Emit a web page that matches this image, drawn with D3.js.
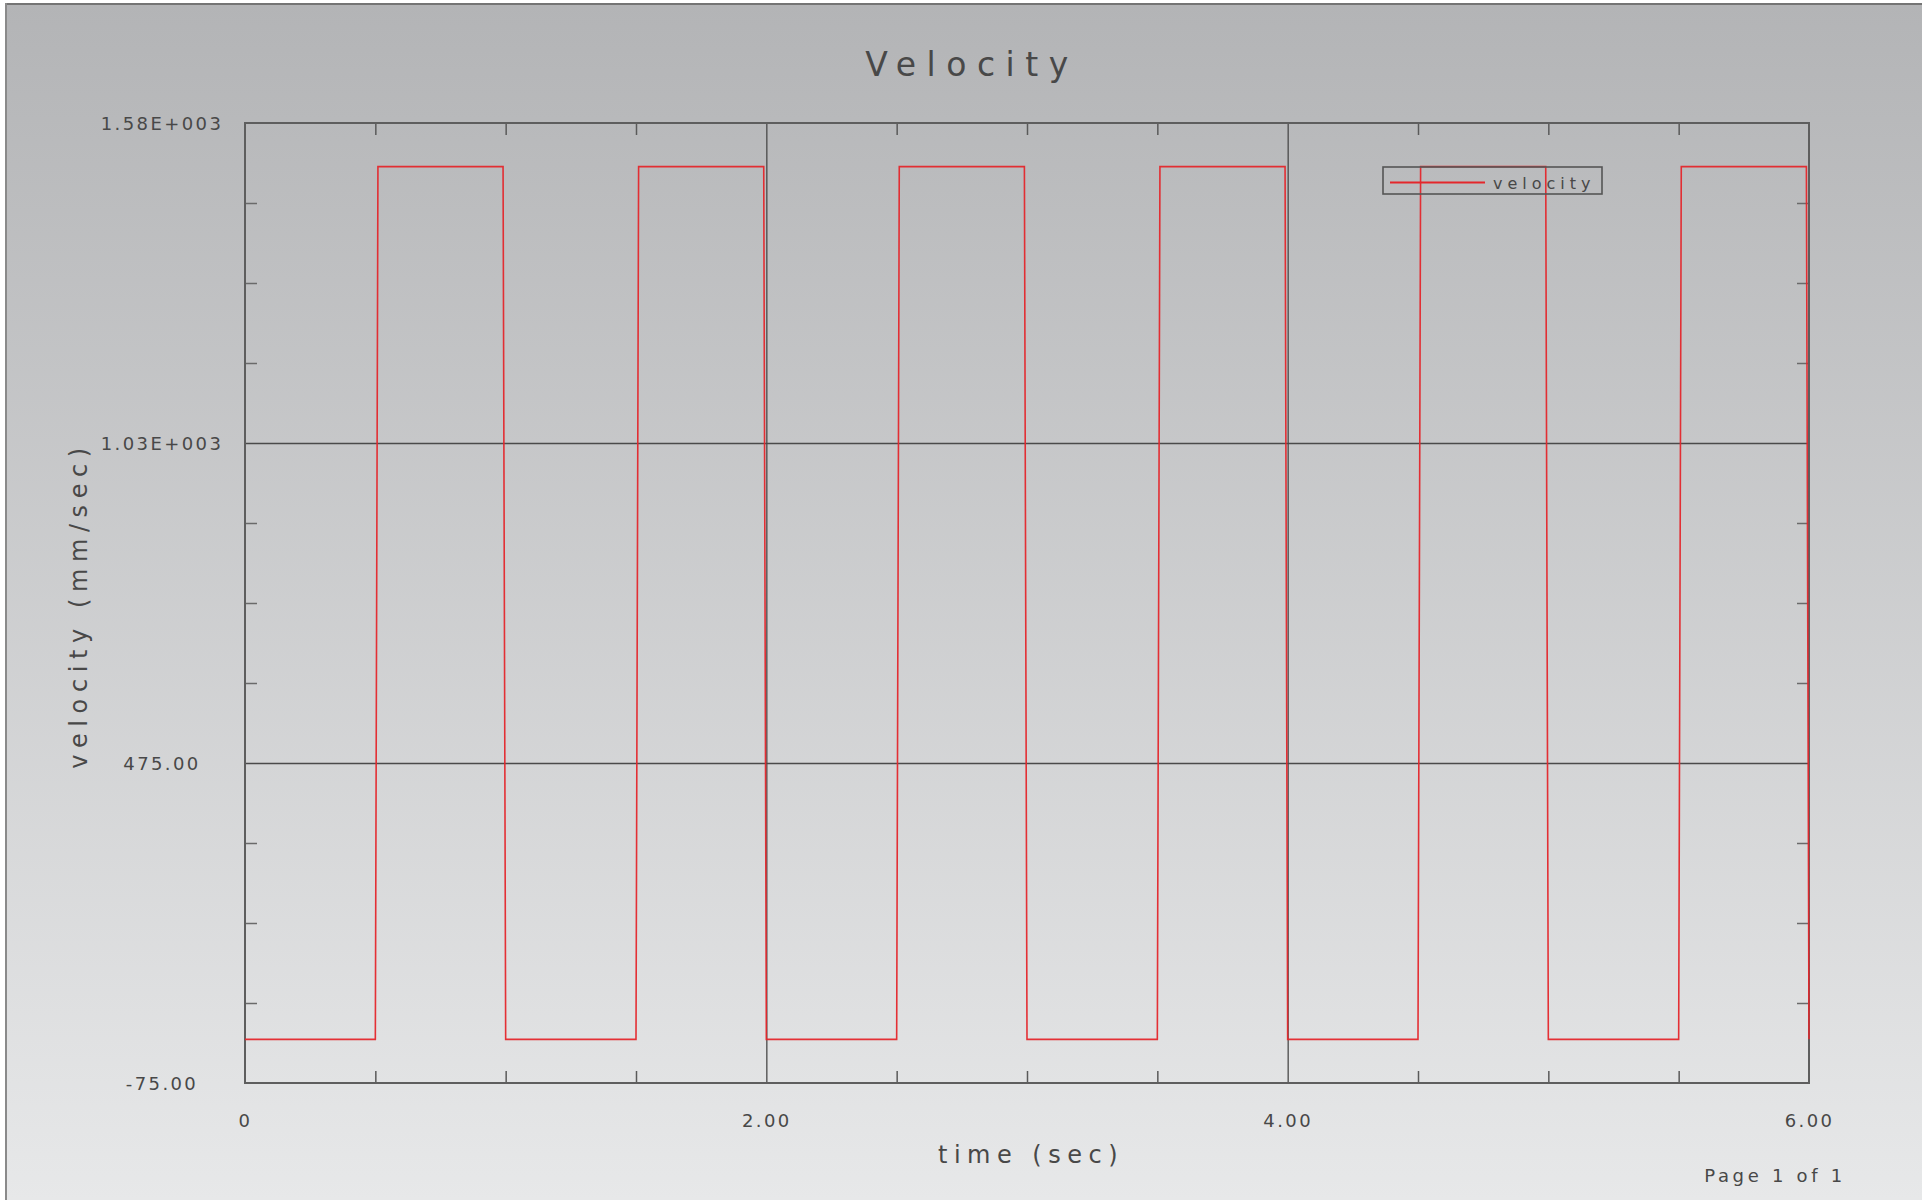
<!DOCTYPE html>
<html>
<head>
<meta charset="utf-8">
<script src="https://cdn.jsdelivr.net/npm/d3@7/dist/d3.min.js"></script>
<style>
  html, body { margin: 0; padding: 0; background: #ffffff; }
  svg { display: block; }
  text { font-family: "DejaVu Sans", sans-serif; fill: #484848; }
</style>
</head>
<body>
<svg id="chart" width="1922" height="1200"></svg>
<script>
// ---- data ----
const timeSec = [0, 0.5, 0.51, 0.99, 1.0, 1.5, 1.51, 1.99, 2.0, 2.5, 2.51, 2.99, 3.0,
                 3.5, 3.51, 3.99, 4.0, 4.5, 4.51, 4.99, 5.0, 5.5, 5.51, 5.99, 6.0];
const velocity = [0, 0, 1500, 1500, 0, 0, 1500, 1500, 0, 0, 1500, 1500, 0,
                  0, 1500, 1500, 0, 0, 1500, 1500, 0, 0, 1500, 1500, 0];
const xMajorTicks = [0, 2, 4, 6];
const xTickLabels = ["0", "2.00", "4.00", "6.00"];
const xMinorTicks = [0.5, 1, 1.5, 2.5, 3, 3.5, 4.5, 5, 5.5];
const yMajorTicks = [-75, 475, 1025, 1575];
const yTickLabels = ["-75.00", "475.00", "1.03E+003", "1.58E+003"];
const yMinorTicks = [62.5, 200, 337.5, 612.5, 750, 887.5, 1162.5, 1300, 1437.5];
const xGridValues = [2, 4];
const yGridValues = [475, 1025];
const seriesName = "velocity";
const chartTitle = "Velocity";
const xTitle = "time (sec)";
const yTitle = "velocity (mm/sec)";
const pageText = "Page 1 of 1";

// ---- layout ----
const W = 1922, H = 1200;
const L = 245, T = 123, R = 1809, B = 1083;
const pw = R - L, ph = B - T;

const svg = d3.select("#chart");

// background gradient
const defs = svg.append("defs");
const grad = defs.append("linearGradient").attr("id", "bg")
  .attr("x1", 0).attr("y1", 0).attr("x2", 0).attr("y2", 1);
grad.append("stop").attr("offset", "0%").attr("stop-color", "#b3b4b6");
grad.append("stop").attr("offset", "100%").attr("stop-color", "#e7e8e9");

svg.append("rect").attr("x", 0).attr("y", 0).attr("width", W).attr("height", H).attr("fill", "#ffffff");
svg.append("rect").attr("x", 5).attr("y", 3).attr("width", W - 5).attr("height", H - 3).attr("fill", "url(#bg)");
svg.append("line").attr("x1", 5).attr("x2", W).attr("y1", 4).attr("y2", 4)
  .attr("stroke", "#747474").attr("stroke-width", 2);
svg.append("line").attr("x1", 6).attr("x2", 6).attr("y1", 3).attr("y2", H)
  .attr("stroke", "#8a8a8a").attr("stroke-width", 2);

const x = d3.scaleLinear().domain([0, 6]).range([0, pw]);
const y = d3.scaleLinear().domain([-75, 1575]).range([ph, 0]);

const g = svg.append("g").attr("transform", `translate(${L},${T})`);

function styleAxis(sel, color, width) {
  sel.select(".domain").remove();
  sel.selectAll(".tick line").attr("stroke", color).attr("stroke-width", width);
}

// gridlines
g.append("g").call(d3.axisLeft(y).tickValues(yGridValues).tickSize(-pw).tickFormat(""))
  .call(s => styleAxis(s, "#4a4a4a", 1.3));
g.append("g").call(d3.axisBottom(x).tickValues(xGridValues).tickSize(ph).tickFormat(""))
  .call(s => styleAxis(s, "#4a4a4a", 1.3));

// minor ticks (inward on all four sides)
g.append("g").call(d3.axisLeft(y).tickValues(yMinorTicks).tickSize(-12).tickFormat(""))
  .call(s => styleAxis(s, "#6a6a6a", 1.5));
g.append("g").attr("transform", `translate(${pw},0)`)
  .call(d3.axisRight(y).tickValues(yMinorTicks).tickSize(-12).tickFormat(""))
  .call(s => styleAxis(s, "#6a6a6a", 1.5));
g.append("g").attr("transform", `translate(0,${ph})`)
  .call(d3.axisBottom(x).tickValues(xMinorTicks).tickSize(-12).tickFormat(""))
  .call(s => styleAxis(s, "#5a5a5a", 1.5));
g.append("g")
  .call(d3.axisTop(x).tickValues(xMinorTicks).tickSize(-12).tickFormat(""))
  .call(s => styleAxis(s, "#5a5a5a", 1.5));

// major tick labels
const yLab = g.append("g").call(d3.axisLeft(y).tickValues(yMajorTicks).tickSize(0)
  .tickFormat((d, i) => yTickLabels[i]));
yLab.select(".domain").remove();
yLab.selectAll(".tick text")
  .attr("x", 162 - L).attr("dy", null).attr("y", 6.5)
  .attr("text-anchor", "middle")
  .style("font-family", "'DejaVu Sans', sans-serif")
  .style("font-size", "18px").style("letter-spacing", "2.4px").style("fill", "#484848");

const xLab = g.append("g").attr("transform", `translate(0,${ph})`)
  .call(d3.axisBottom(x).tickValues(xMajorTicks).tickSize(0)
  .tickFormat((d, i) => xTickLabels[i]));
xLab.select(".domain").remove();
xLab.selectAll(".tick text")
  .attr("y", 1127 - B).attr("dy", null)
  .attr("text-anchor", "middle")
  .style("font-family", "'DejaVu Sans', sans-serif")
  .style("font-size", "18px").style("letter-spacing", "2.4px").style("fill", "#484848");

// plot frame
g.append("rect").attr("x", 0).attr("y", 0).attr("width", pw).attr("height", ph)
  .attr("fill", "none").attr("stroke", "#5e5e5e").attr("stroke-width", 2);

// series
const pts = timeSec.map((t, i) => [t, velocity[i]]);
const line = d3.line().x(d => x(d[0])).y(d => y(d[1]));
g.append("path").datum(pts).attr("d", line)
  .attr("fill", "none").attr("stroke", "#e4262b").attr("stroke-width", 1.6)
  .attr("stroke-opacity", 0.95);

// legend
const lg = svg.append("g");
lg.append("rect").attr("x", 1383).attr("y", 167).attr("width", 219).attr("height", 27)
  .attr("fill", "none").attr("stroke", "#555555").attr("stroke-width", 1.6);
lg.append("line").attr("x1", 1390).attr("x2", 1485).attr("y1", 182.5).attr("y2", 182.5)
  .attr("stroke", "#e4262b").attr("stroke-width", 1.8);
lg.append("text").attr("x", 1493).attr("y", 189)
  .style("font-size", "16px").style("letter-spacing", "5px").text(seriesName);

// titles
svg.append("text").attr("x", 972).attr("y", 76).attr("text-anchor", "middle")
  .style("font-size", "33px").style("letter-spacing", "10.5px").text(chartTitle);
svg.append("text").attr("x", 1031).attr("y", 1163).attr("text-anchor", "middle")
  .style("font-size", "24px").style("letter-spacing", "6.5px").text(xTitle);
svg.append("text").attr("transform", "translate(87,605) rotate(-90)").attr("text-anchor", "middle")
  .style("font-size", "24px").style("letter-spacing", "6.6px").text(yTitle);
svg.append("text").attr("x", 1775).attr("y", 1182).attr("text-anchor", "middle")
  .style("font-size", "18px").style("letter-spacing", "3.7px").text(pageText);
</script>
</body>
</html>
